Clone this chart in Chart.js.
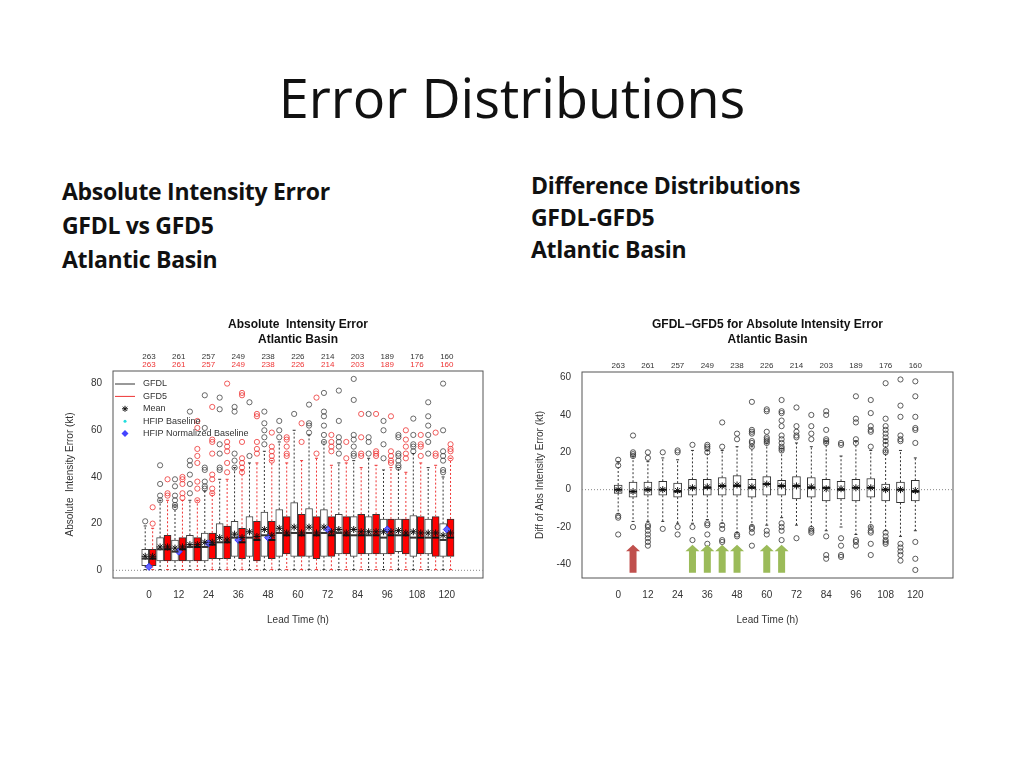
<!DOCTYPE html>
<html><head><meta charset="utf-8">
<script src="https://cdn.jsdelivr.net/npm/chart.js@4"></script>
<style>
body{margin:0;width:1024px;height:768px;background:#fff;position:relative;overflow:hidden;font-family:"Open Sans","Liberation Sans",sans-serif}
.t{position:absolute;left:0;width:1024px;top:60px;text-align:center;font-size:54px;color:#111}
.h{position:absolute;font-weight:bold;font-size:23px;line-height:34px;color:#111;letter-spacing:-0.3px}
.c{position:absolute}
</style></head><body>
<div class="t">Error Distributions</div>
<div class="h" style="left:62px;top:174px">Absolute Intensity Error<br>GFDL vs GFD5<br>Atlantic Basin</div>
<div class="h" style="left:531px;top:169px;line-height:32px">Difference Distributions<br>GFDL-GFD5<br>Atlantic Basin</div>
<div class="c" style="left:60px;top:310px"><canvas id="a" width="440" height="320"></canvas></div>
<div class="c" style="left:530px;top:310px"><canvas id="b" width="430" height="320"></canvas></div>
<script>
const leadTimes=[0,6,12,18,24,30,36,42,48,54,60,66,72,78,84,90,96,102,108,114,120];
const counts=[263,261,257,249,238,226,214,203,189,176,160];
const countTimes=[0,12,24,36,48,60,72,84,96,108,120];
// GFDL absolute error
const gfdlQ1=[2,4,4,4,4,5,6,6,6,6,6,6,6,7,6,7,7,8,6,7,6];
const gfdlMed=[5,9,8,10,10,12,14,14,15,16,16,16,16,16,15,15,14,15,14,14,13];
const gfdlQ3=[9,14,13,15,16,20,21,23,25,26,29,26.5,26,24,23,23,22,22,23.5,22,20];
const gfdlWhi=[19,30,28,30,34,39,44,46,51,55,60,58,55,46,47,48,43,44,50,44,40];
const gfdlMean=[6,10,9.5,11,12,14,15.5,16.5,17.5,18,18.5,18.5,18.5,17.5,17.5,16.5,16.5,17,16.5,16,15];
const gfdlOut=[[21],[45,37,32,30],[39,36,32,30,28,27],[68,47,45,41,37,33],[75,61,44,43,38,36,35],[74,69,54,50,44,43],[70,68,50,47,44],[72,49],[68,63,60,57,54],[64,60,57],[67],[71,63,62,59],[76,68,66,62,58,55],[77,64,57,55,53,50],[82,73,58,56,53,50,49],[67,57,55,50],[64,60,54,48],[58,57,50,49,47,45,44],[65,58,54,53,51],[72,66,62,58,55,50],[80,60,51,49,47,43,42]];
// GFD5 absolute error
const gfd5Q1=[2,4,4,4,5,5,5,4,5,7,6,5,6,7,7,7,7,7,7,6,6];
const gfd5Med=[5,9,9,10,11,12,12,13,13,15,15,15,15,15,15,15,15,15,14,14,14];
const gfd5Q3=[9,15,14,14,16,19,18,21,21,23,24,23,23,23,24,24,22,22,23,23,22];
const gfd5Whi=[18,30,30,30,33,39,43,46,47,46,47,48,45,46,44,45,44,42,46,45,48];
const gfd5Mean=[6,10,10,11,12,13,14,14.5,15,16,16,16,16.5,16,16.5,16.5,16.5,16,16,16,16];
const gfd5Out=[[27,20],[39,33,32],[40,39,37,33,31],[64,61,52,49,46,38,35,30],[70,56,55,50,41,39,35,33],[80,55,53,51,46,42],[76,75,55,48,46,44,42],[67,66,55,52,50],[59,53,51,49,47],[57,56,53,50,49],[63,55],[74,50],[58,55,53,51],[55,48],[67,57,50,49],[67,51,50,49],[66,51,49,47,46],[60,56,53,50,48],[58,54,53,49],[59,50,49],[54,52,51,48]];
const baseTimes=[0,12,24,36,48,72,96,120];
const baseNorm=[1.5,8,11.5,13,14,17.5,17.5,17.5];
// Difference GFDL-GFD5
const dQ1=[-2,-4,-3,-3,-4,-3,-3,-3,-3,-4,-3,-3,-5,-4,-6,-5,-6,-4,-6,-7,-6];
const dMed=[0,-1,0,0,-1,1,1,2,2,1,3,2,2,1,1,0,1,1,0,0,-1];
const dQ3=[2.5,4,4,4.5,3.5,5.5,5.5,6.5,7.5,5.5,7,5,7,6.5,5.5,4.5,5.5,6,3,4,5];
const dWlo=[-13,-17,-17,-17,-18,-18,-16,-18,-23,-19,-19,-15,-19,-21,-22,-20,-24,-20,-22,-25,-22];
const dWhi=[15,18,15,17,16,21,21,21,23,23,25,22,25,23,26,18,26,21,27,21,17];
const dMean=[0,-1,0,0,-0.5,1,1.5,2,2.5,1.5,3,2,2,1.5,0.5,0.5,1,1,0,0,-0.5];
const dOut=[[16,13,-14,-15,-24],[29,20,19,18,-20],[20,17,-19,-20,-22,-24,-26,-28,-30],[20,-21],[21,20,-20,-24],[24,-20,-27,-36],[24,23,22,20,-18,-19,-24,-29],[36,23,-19,-21,-27,-28],[30,27,-24,-25],[47,32,31,30,26,25,23,-20,-21,-23,-30],[43,42,31,28,27,26,25,-22,-24],[48,42,41,37,34,29,27,25,23,22,21,-18,-20,-22,-27],[44,34,31,29,28,-26],[40,34,30,27,-21,-22,-23],[42,40,32,27,26,25,-25,-35,-37],[25,24,-26,-30,-35,-36],[50,38,36,27,25,-27,-28,-30],[48,41,34,32,31,23,-20,-22,-23,-29,-35],[57,38,34,32,30,28,26,24,21,20,-23,-25,-27,-28,-29],[59,45,39,29,27,26,-29,-31,-33,-35,-38],[58,50,39,33,32,25,-28,-37,-43]];
const redArrow=[6];
const greenArrows=[30,36,42,48,60,66];

const FONT="'Liberation Sans',Arial,sans-serif";
Chart.defaults.font.family=FONT;
Chart.defaults.color='#333';
const off=1.5;
function outPts(times,outs,dx){const r=[];times.forEach((t,i)=>outs[i].forEach(v=>r.push({x:t+dx,y:v})));return r;}
function boxDs(times,q1,q3,dx,fill,border,w){return{type:'bar',data:times.map((t,i)=>({x:t+dx,y:[q1[i],q3[i]]})),backgroundColor:fill,borderColor:border,borderWidth:1,borderSkipped:false,barThickness:w,grouped:false,order:5};}
function whiskerPlugin(id,sets){return{id,afterDatasetsDraw(ch){const c=ch.ctx,xs=ch.scales.x,ys=ch.scales.y;c.save();
sets.forEach(s=>{s.times.forEach((t,i)=>{const x=xs.getPixelForValue(t+s.dx);const hw=s.w/2;
c.strokeStyle=s.wc;c.lineWidth=1;c.setLineDash([2,2]);c.beginPath();
c.moveTo(x,ys.getPixelForValue(s.q3[i]));c.lineTo(x,ys.getPixelForValue(s.whi[i]));
c.moveTo(x,ys.getPixelForValue(s.q1[i]));c.lineTo(x,ys.getPixelForValue(s.wlo[i]));c.stroke();c.setLineDash([]);
c.beginPath();[s.whi[i],s.wlo[i]].forEach(v=>{const y=ys.getPixelForValue(v);c.moveTo(x-1.5,y);c.lineTo(x+1.5,y);});c.stroke();
c.strokeStyle=s.mc;c.lineWidth=2;c.beginPath();const ym=ys.getPixelForValue(s.med[i]);c.moveTo(x-hw,ym);c.lineTo(x+hw,ym);c.stroke();});});
c.restore();}};}
function frame(ch){const c=ch.ctx,a=ch.chartArea;c.save();c.strokeStyle='#555';c.lineWidth=1;c.strokeRect(a.left,a.top,a.right-a.left,a.bottom-a.top);
const ys=ch.scales.y;c.setLineDash([1,2]);c.strokeStyle='#888';c.beginPath();const y0=ys.getPixelForValue(0);c.moveTo(a.left,y0);c.lineTo(a.right,y0);c.stroke();c.restore();}
function titles(ch,t1,t2,redCounts){const c=ch.ctx,xs=ch.scales.x,a=ch.chartArea;c.save();c.textAlign='center';c.fillStyle='#111';c.font="bold 12px "+FONT;
c.fillText(t1,(a.left+a.right)/2,18);c.fillText(t2,(a.left+a.right)/2,33);c.font="8px "+FONT;
countTimes.forEach((t,i)=>{const x=xs.getPixelForValue(t);if(redCounts){c.fillStyle='#333';c.fillText(counts[i],x,a.top-12);c.fillStyle='#e33';c.fillText(counts[i],x,a.top-4);}else{c.fillStyle='#333';c.fillText(counts[i],x,a.top-4);}});c.restore();}
function scaleOpts(xmin,xmax,ymin,ymax,ystep,ytitle,yw){return{
x:{type:'linear',min:xmin,max:xmax,grid:{display:false},border:{display:false},afterBuildTicks:s=>{s.ticks=countTimes.map(v=>({value:v}));},ticks:{color:'#333',font:{size:10}},title:{display:true,text:'Lead Time (h)',color:'#333',font:{size:10}},afterFit:s=>{s.height=52;}},
y:{type:'linear',min:ymin,max:ymax,grid:{display:false},border:{display:false},afterBuildTicks:s=>{const r=[];for(let v=Math.ceil(ymin/ystep)*ystep;v<=ymax;v+=ystep)r.push({value:v});s.ticks=r;},ticks:{color:'#333',font:{size:10}},title:{display:true,text:ytitle,color:'#333',font:{size:10}},afterFit:s=>{s.width=yw;}}};}

const setsA=[{times:leadTimes,dx:-off,q1:gfdlQ1,q3:gfdlQ3,med:gfdlMed,whi:gfdlWhi,wlo:leadTimes.map(()=>0.3),w:7,wc:'#333',mc:'#333'},
{times:leadTimes,dx:off,q1:gfd5Q1,q3:gfd5Q3,med:gfd5Med,whi:gfd5Whi,wlo:leadTimes.map(()=>0.3),w:7,wc:'#e33',mc:'#111'}];
new Chart(document.getElementById('a'),{data:{datasets:[
boxDs(leadTimes,gfdlQ1,gfdlQ3,-off,'#fff','#444',7),
boxDs(leadTimes,gfd5Q1,gfd5Q3,off,'#f00','#333',7),
{type:'scatter',data:outPts(leadTimes,gfdlOut,-off),pointStyle:'circle',pointRadius:2.6,borderColor:'#444',backgroundColor:'transparent',borderWidth:0.8,order:1},
{type:'scatter',data:outPts(leadTimes,gfd5Out,off),pointStyle:'circle',pointRadius:2.6,borderColor:'#e33',backgroundColor:'transparent',borderWidth:0.8,order:1},
{type:'scatter',data:leadTimes.map((t,i)=>({x:t-off,y:gfdlMean[i]})),pointStyle:'star',pointRadius:3.5,borderColor:'#111',borderWidth:1,order:0},
{type:'scatter',data:leadTimes.map((t,i)=>({x:t+off,y:gfd5Mean[i]})),pointStyle:'star',pointRadius:3.5,borderColor:'#111',borderWidth:1,order:0},
{type:'scatter',data:baseTimes.map((t,i)=>({x:t,y:baseNorm[i]})),pointStyle:'rectRot',pointRadius:3.5,borderColor:'#33f',backgroundColor:'#66f',order:0}
]},options:{responsive:false,animation:false,layout:{padding:{top:61,right:17,left:0,bottom:0}},
plugins:{legend:{display:false},tooltip:{enabled:false}},scales:scaleOpts(-7.7,127.8,-3.3,85.4,20,'Absolute  Intensity Error (kt)',53)},
plugins:[{id:'fa',beforeDatasetsDraw:frame,afterDraw(ch){titles(ch,'Absolute  Intensity Error','Atlantic Basin',true);
const c=ch.ctx,a=ch.chartArea;c.save();c.font="9px "+FONT;c.fillStyle='#333';c.textBaseline='middle';
const items=[['GFDL','line','#333'],['GFD5','line','#e33'],['Mean','star','#111'],['HFIP Baseline','dot','#2dd'],['HFIP Normalized Baseline','dia','#44f']];
items.forEach((it,i)=>{const y=a.top+13+i*12.4,x=a.left+12;c.strokeStyle=it[2];c.fillStyle=it[2];c.lineWidth=1;
if(it[1]==='line'){c.beginPath();c.moveTo(x-10,y);c.lineTo(x+10,y);c.stroke();}
else if(it[1]==='star'){c.beginPath();for(let k=0;k<4;k++){const an=k*Math.PI/4;c.moveTo(x-3*Math.cos(an),y-3*Math.sin(an));c.lineTo(x+3*Math.cos(an),y+3*Math.sin(an));}c.stroke();}
else if(it[1]==='dot'){c.beginPath();c.arc(x,y,1.5,0,7);c.fill();}
else{c.beginPath();c.moveTo(x,y-3.5);c.lineTo(x+3.5,y);c.lineTo(x,y+3.5);c.lineTo(x-3.5,y);c.closePath();c.fill();}
c.fillStyle='#333';c.fillText(it[0],x+18,y);});c.restore();}},whiskerPlugin('wa',setsA)]});

const setsB=[{times:leadTimes,dx:0,q1:dQ1,q3:dQ3,med:dMed,whi:dWhi,wlo:dWlo,w:8,wc:'#333',mc:'#111'}];
new Chart(document.getElementById('b'),{data:{datasets:[
boxDs(leadTimes,dQ1,dQ3,0,'#fff','#333',8),
{type:'scatter',data:outPts(leadTimes,dOut,0),pointStyle:'circle',pointRadius:2.6,borderColor:'#333',backgroundColor:'transparent',borderWidth:0.8,order:1},
{type:'scatter',data:leadTimes.map((t,i)=>({x:t,y:dMean[i]})),pointStyle:'star',pointRadius:3.5,borderColor:'#111',borderWidth:1,order:0}
]},options:{responsive:false,animation:false,layout:{padding:{top:62,right:7,left:0,bottom:0}},
plugins:{legend:{display:false},tooltip:{enabled:false}},scales:scaleOpts(-7.8,128.4,-47.3,63,20,'Diff of Abs Intensity Error (kt)',52)},
plugins:[{id:'fb',beforeDatasetsDraw:frame,afterDraw(ch){titles(ch,'GFDL\u2212GFD5 for Absolute Intensity Error','Atlantic Basin',false);
const c=ch.ctx,xs=ch.scales.x,ys=ch.scales.y;c.save();
const arrow=(t,col)=>{const x=xs.getPixelForValue(t),yb=ys.getPixelForValue(-44.5),yt=ys.getPixelForValue(-29.5),yh=ys.getPixelForValue(-33);
c.fillStyle=col;c.beginPath();c.moveTo(x-3.5,yb);c.lineTo(x+3.5,yb);c.lineTo(x+3.5,yh);c.lineTo(x+7,yh);c.lineTo(x,yt);c.lineTo(x-7,yh);c.lineTo(x-3.5,yh);c.closePath();c.fill();};
redArrow.forEach(t=>arrow(t,'#c0504d'));greenArrows.forEach(t=>arrow(t,'#9bbb59'));c.restore();}},whiskerPlugin('wb',setsB)]});
</script></body></html>
